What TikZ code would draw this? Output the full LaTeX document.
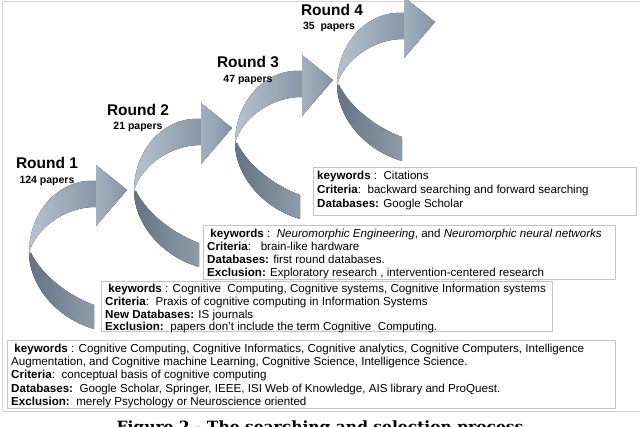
\documentclass[tikz,border=0pt]{standalone}
\usepackage{fontspec}
\setmainfont{Liberation Sans}
\newfontfamily\capfont{DejaVu Serif}
\definecolor{upL}{HTML}{B7C2CE}
\definecolor{upR}{HTML}{8797A8}
\definecolor{loL}{HTML}{667382}
\definecolor{loR}{HTML}{8E9BA9}
\definecolor{hdL}{HTML}{A3B0BE}
\definecolor{hdR}{HTML}{8495A7}
\definecolor{boxgray}{HTML}{C4C4C4}
\definecolor{framegray}{HTML}{D4D4D4}
\tikzset{
  curvarrow/.pic={
    \fill[left color=upL, right color=upR]
      (-31,-9) .. controls (-66,-12) and (-98,20) .. (-98,63)
      .. controls (-92,40) and (-64,17) .. (-31,17) -- cycle;
    \fill[left color=loL, right color=loR]
      (-98,63) .. controls (-98,92) and (-74,127) .. (-33,139)
      -- (-33,115) .. controls (-60,105) and (-85,85) .. (-96,63) -- cycle;
    \fill[left color=hdL, right color=hdR] (0,0) -- (-31,-25) -- (-31,36) -- cycle;
  },
  boxframe/.style={draw=boxgray, line width=0.6pt, fill=white, anchor=north west, inner sep=0pt},
  boxtext/.style={anchor=north west, inner sep=0pt, align=left},
  rtitle/.style={font=\fontsize{15.5}{17}\selectfont\bfseries},
  rpapers/.style={font=\fontsize{10.5}{12}\selectfont\bfseries}
}
\begin{document}
\begin{tikzpicture}[x=1pt,y=-1pt]
\useasboundingbox (0,0) rectangle (640,427);
\clip (0,0) rectangle (640,427);
\draw[framegray, line width=0.8pt] (2,1) rectangle (660,411);
% arrows
\pic at (127,190) {curvarrow};
\pic at (232,128) {curvarrow};
\pic at (333,80) {curvarrow};
\pic at (435,22) {curvarrow};
% titles
\node[rtitle] (r1) at (47,163) {Round 1};
\node[rpapers] (p1) at (47,181) {124 papers};
\node[rtitle] (r2) at (138,110) {Round 2};
\node[rpapers] (p2) at (138,127) {21 papers};
\node[rtitle] (r3) at (248,62) {Round 3};
\node[rpapers] (p3) at (248,80) {47 papers};
\node[rtitle] (r4) at (332,10) {Round 4};
\node[rpapers] (p4) at (329,27) {35\ \ papers};
% boxes
\node[boxframe, minimum width=323pt, minimum height=48pt] (b4) at (313,167) {};
\node[boxframe, minimum width=412pt, minimum height=54pt] (b3) at (203,225) {};
\node[boxframe, minimum width=451pt, minimum height=50pt] (b2) at (101,281) {};
\node[boxframe, minimum width=608pt, minimum height=68pt] (b1) at (7,340) {};
\node[boxtext, font=\fontsize{11.6}{14}\selectfont] (t4) at ([xshift=4pt,yshift=-4pt]b4.north west)
  {\textbf{keywords} :\ \ Citations\\
   \textbf{Criteria}:\ \ backward searching and forward searching\\
   \textbf{Databases:} Google Scholar};
\node[boxtext, font=\fontsize{11.6}{13}\selectfont] (t3) at ([xshift=4pt,yshift=-3.5pt]b3.north west)
  {\ \textbf{keywords} :\ \ \textit{Neuromorphic Engineering}, and \textit{Neuromorphic neural networks}\\
   \textbf{Criteria}:\ \ \ brain-like hardware\\
   \textbf{Databases:} first round databases.\\
   \textbf{Exclusion:} Exploratory research , intervention-centered research};
\node[boxtext, font=\fontsize{11.6}{12.7}\selectfont] (t2) at ([xshift=4pt,yshift=-3pt]b2.north west)
  {\ \textbf{keywords} : Cognitive\ \ Computing, Cognitive systems, Cognitive Information systems\\
   \textbf{Criteria}:\ \ Praxis of cognitive computing in Information Systems\\
   \textbf{New Databases:} IS journals\\
   \textbf{Exclusion:}\ \ papers don't include the term Cognitive\ \ Computing.};
\node[boxtext, font=\fontsize{11.6}{13.3}\selectfont] (t1) at ([xshift=4pt,yshift=-3.5pt]b1.north west)
  {\ \textbf{keywords} : Cognitive Computing, Cognitive Informatics, Cognitive analytics, Cognitive Computers, Intelligence\\
   Augmentation, and Cognitive machine Learning, Cognitive Science, Intelligence Science.\\
   \textbf{Criteria}:\ \ conceptual basis of cognitive computing\\
   \textbf{Databases:}\ \ Google Scholar, Springer, IEEE, ISI Web of Knowledge, AIS library and ProQuest.\\
   \textbf{Exclusion:}\ \ merely Psychology or Neuroscience oriented};
% caption
\node[font=\capfont\bfseries\fontsize{15.5}{17}\selectfont, anchor=base, inner sep=0pt] (cap) at (320,432)
  {Figure 2 - The searching and selection process};
\end{tikzpicture}
\end{document}
